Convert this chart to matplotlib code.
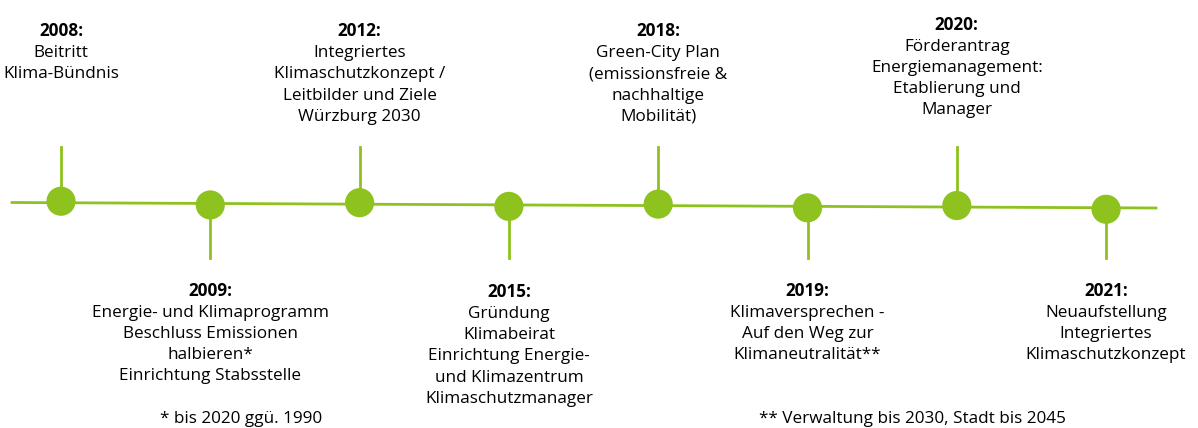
import numpy as np
import matplotlib.pyplot as plt

plt.rcParams['font.family'] = ['Open Sans', 'DejaVu Sans']

# Timeline content
years = ["2008", "2009", "2012", "2015", "2018", "2019", "2020", "2021"]
texts = [
    "Beitritt\nKlima-Bündnis",
    "Energie- und Klimaprogramm\nBeschluss Emissionen\nhalbieren*\nEinrichtung Stabsstelle",
    "Integriertes\nKlimaschutzkonzept /\nLeitbilder und Ziele\nWürzburg 2030",
    "Gründung\nKlimabeirat\nEinrichtung Energie-\nund Klimazentrum\nKlimaschutzmanager",
    "Green-City Plan\n(emissionsfreie &\nnachhaltige\nMobilität)",
    "Klimaversprechen -\nAuf den Weg zur\nKlimaneutralität**",
    "Förderantrag\nEnergiemanagement:\nEtablierung und\nManager",
    "Neuaufstellung\nIntegriertes\nKlimaschutzkonzept",
]
above = [True, False, True, False, True, False, True, False]
footnotes = ["* bis 2020 ggü. 1990", "** Verwaltung bis 2030, Stadt bis 2045"]

green = "#8dc21f"

W, H = 1198, 428
fig = plt.figure(figsize=(W / 100, H / 100), dpi=100)
ax = fig.add_axes([0, 0, 1, 1])
ax.set_xlim(0, W)
ax.set_ylim(H, 0)
ax.axis("off")

# layout in pixel coordinates
x0, dx = 61, 149.3
line_y = lambda x: 202.5 + (x - 12) * 5.5 / 1144
xs = x0 + dx * np.arange(len(years))

ax.plot([12, 1156], [line_y(12), line_y(1156)], color=green, lw=2.0, zorder=1)

fs = 12.3
step = 21.2
year_base = [36, 295.5, 36, 296.7, 36, 295.5, 29.5, 295.5]
for i, (yr, txt, up) in enumerate(zip(years, texts, above)):
    x = xs[i]
    cy = line_y(x) + (-1.5 if up else 1.5)
    if up:
        ax.plot([x, x], [147, cy], color=green, lw=2.0, zorder=1)
    else:
        ax.plot([x, x], [cy, 258], color=green, lw=2.0, zorder=1)
    yb = year_base[i]
    ax.scatter([x], [cy], s=440, color=green, edgecolors="none", zorder=2)
    ax.text(x, yb, yr + ":", ha="center", va="baseline", fontsize=fs,
            fontweight="bold", color="black")
    for k, line in enumerate(txt.split("\n")):
        ax.text(x, yb + step * (k + 1), line, ha="center", va="baseline",
                fontsize=fs, color="black")

ax.text(241, 423, footnotes[0], ha="center", va="baseline", fontsize=fs)
ax.text(912, 423, footnotes[1], ha="center", va="baseline", fontsize=fs)

fig.savefig("out.png", dpi=100)
